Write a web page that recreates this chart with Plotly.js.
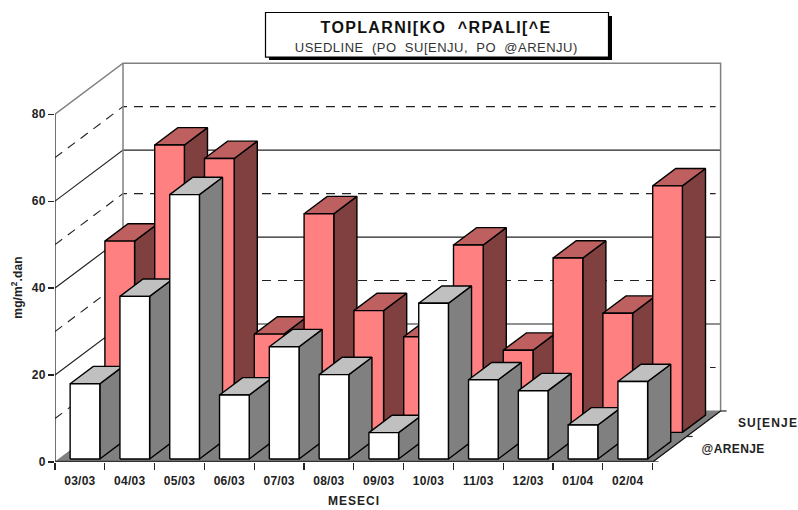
<!DOCTYPE html>
<html>
<head>
<meta charset="utf-8">
<script src="https://cdn.plot.ly/plotly-3.0.1.min.js"></script>
<style>
html,body{margin:0;padding:0;background:#fff}
#chart{width:798px;height:510px}
.gtitle{letter-spacing:1.35px}
.xtick text,.ytick text{letter-spacing:.25px}
.annotation[data-index="0"] text{letter-spacing:.5px}
.annotation[data-index="1"] text{letter-spacing:1px}
.annotation[data-index="2"] text{letter-spacing:.1px}
.annotation[data-index="3"] text{letter-spacing:1.15px}
.annotation[data-index="4"] text{letter-spacing:.4px}
</style>
</head>
<body>
<div id="chart"></div>
<script>
var months = ["03/03","04/03","05/03","06/03","07/03","08/03","09/03","10/03","11/03","12/03","01/04","02/04"];
var zarenje = [17.3,37.4,60.8,14.7,25.8,19.4,6.05,35.8,18.2,15.7,7.8,17.8];
var suenje = [44,66.1,63,22.6,50.3,28,22,43.1,18.9,40.1,27.4,56.7];
var yTicks = [0,20,40,60,80];
var solidGrid = [20,40,60];
var dashedGrid = [10,30,50,70];

var W = 798, H = 510;
var PX_X = 49.8, PX_Y = 4.345, LEFT = 55, BASE = 461.7;
var DX = 68 / PX_X, DY = 51 / PX_Y;
var XMIN = -0.5, XMAX = XMIN + (W - LEFT) / PX_X, YMAX = BASE / PX_Y;
var XEND = months.length - 0.5, HALF = 0.298;
var DARK = '#222', GRAY = '#808080';
function P(x, v, z) { return [x + z * DX, v + z * DY]; }
function poly(points, fill, color, width, dash) {
  var closed = fill ? points.concat([points[0]]) : points;
  return {
    type: 'scatter', mode: 'lines', cliponaxis: false, showlegend: false, hoverinfo: 'skip',
    x: closed.map(function (p) { return p ? p[0] : null; }),
    y: closed.map(function (p) { return p ? p[1] : null; }),
    fill: fill ? 'toself' : 'none', fillcolor: fill || undefined,
    line: { color: color, width: width, dash: dash || 'solid' }
  };
}
var traces = [];
// back wall and left wall grid
solidGrid.forEach(function (v) {
  traces.push(poly([P(XMIN, v, 0), P(XMIN, v, 1), P(XEND, v, 1)], null, DARK, 1.2));
});
dashedGrid.forEach(function (v) {
  traces.push(poly([P(XMIN, v, 0), P(XMIN, v, 1), P(XEND - 0.1, v, 1)], null, DARK, 1.1, '9px,7px'));
});
traces.push(poly([P(XMIN, 80, 0), P(XMIN, 80, 1), P(XEND, 80, 1), P(XEND, 0, 1)], null, GRAY, 1.5));
traces.push(poly([P(XMIN, 0, 1), P(XMIN, 80, 1)], null, GRAY, 1.5));
// floor
traces.push(poly([P(XMIN, 0, 0), P(XEND, 0, 0), P(XEND, 0, 1), P(XMIN, 0, 1)], GRAY, GRAY, 1));
traces.push(poly([P(XEND, 0, 0), P(XEND, 0, 1)], null, '#111', 1.2));
traces.push(poly([P(XMIN, 0, 0), P(XMIN, 80, 0)], null, '#111', 1.2));
traces.push(poly([P(XMIN, 0, 0), P(XEND, 0, 0)], null, '#333', 2.5));
// depth ticks
var tickX = 6 / PX_X;
[0, 0.5, 1].forEach(function (z) {
  var a = P(XEND, 0, z);
  traces.push(poly([a, [a[0] + tickX, a[1]]], null, '#222', 1.2));
});
function addBars(values, z0, z1, shift, cFront, cTop, cSide) {
  values.forEach(function (v, i) {
    var l = i - HALF + shift, r = i + HALF + shift;
    traces.push(poly([P(r, 0, z0), P(r, 0, z1), P(r, v, z1), P(r, v, z0)], cSide, '#000', 1.4));
    traces.push(poly([P(l, v, z0), P(r, v, z0), P(r, v, z1), P(l, v, z1)], cTop, '#000', 1.4));
    traces.push(poly([P(l, 0, z0), P(r, 0, z0), P(r, v, z0), P(l, v, z0)], cFront, '#000', 1.4));
  });
}
addBars(suenje, 0.58, 0.92, 0.008, '#FF8080', '#BF6060', '#804040');
addBars(zarenje, 0.06, 0.40, 0.02, '#FFFFFF', '#C0C0C0', '#808080');

function px(x) { return (x - LEFT) / (W - LEFT); }
function py(y) { return (BASE - y) / BASE; }
var boundaries = months.map(function (m, i) { return i - 0.5; }).concat([XEND]);
var textColor = '#222';
var bold = { family: 'Liberation Sans, Arial, sans-serif', size: 12, color: textColor, weight: 700 };
var layout = {
  width: W, height: H, paper_bgcolor: '#fff', plot_bgcolor: 'rgba(0,0,0,0)',
  margin: { l: LEFT, r: 0, t: 0, b: H - BASE, pad: 0 },
  showlegend: false,
  title: { text: '<b>TOPLARNI[KO  ^RPALI[^E</b>', x: 436 / W, xanchor: 'center', y: 1 - 27.5 / H, yanchor: 'middle',
    font: { family: 'Liberation Sans, Arial, sans-serif', size: 16, color: '#111' } },
  xaxis: {
    range: [XMIN, XMAX], showgrid: false, zeroline: false, showline: false,
    tickmode: 'array', tickvals: months.map(function (m, i) { return i; }), ticktext: months,
    ticks: 'outside', ticklen: 8, tickcolor: 'rgba(0,0,0,0)', tickfont: bold, tickangle: 0,
    minor: { tickmode: 'array', tickvals: boundaries, ticks: 'outside', ticklen: 7, tickcolor: '#222', tickwidth: 1.2, showgrid: false }
  },
  yaxis: {
    range: [0, YMAX], showgrid: false, zeroline: false, showline: false,
    tickmode: 'array', tickvals: yTicks, ticks: 'outside', ticklen: 6, tickcolor: '#222', tickwidth: 1.2, tickfont: bold
  },
  shapes: [
    { type: 'rect', xref: 'paper', yref: 'paper', x0: px(269), x1: px(612), y0: py(60), y1: py(16), fillcolor: '#000', line: { width: 0 }, layer: 'above' },
    { type: 'rect', xref: 'paper', yref: 'paper', x0: px(265.5), x1: px(608.5), y0: py(57), y1: py(12.5), fillcolor: '#fff', line: { color: '#000', width: 1.2 }, layer: 'above' }
  ],
  annotations: [
    { text: 'USEDLINE  (PO  SU[ENJU,  PO  @ARENJU)', xref: 'paper', yref: 'paper', x: px(436.5), y: py(47), xanchor: 'center', yanchor: 'middle', showarrow: false,
      font: { family: 'Liberation Sans, Arial, sans-serif', size: 13, color: '#333' } },
    { text: '<b>MESECI</b>', xref: 'paper', yref: 'paper', x: px(354), y: py(501), xanchor: 'center', yanchor: 'middle', showarrow: false, font: bold },
    { text: '<b>mg/m<sup>2</sup>.dan</b>', xref: 'paper', yref: 'paper', x: px(17), y: py(288), xanchor: 'center', yanchor: 'middle', textangle: -90, showarrow: false, font: bold },
    { text: '<b>SU[ENJE</b>', xref: 'paper', yref: 'paper', x: px(739.5), y: py(423), xanchor: 'left', yanchor: 'middle', showarrow: false, font: bold },
    { text: '<b>@ARENJE</b>', xref: 'paper', yref: 'paper', x: px(701), y: py(449), xanchor: 'left', yanchor: 'middle', showarrow: false, font: bold }
  ]
};
Plotly.newPlot('chart', traces, layout, { displayModeBar: false, staticPlot: true });
</script>
</body>
</html>
